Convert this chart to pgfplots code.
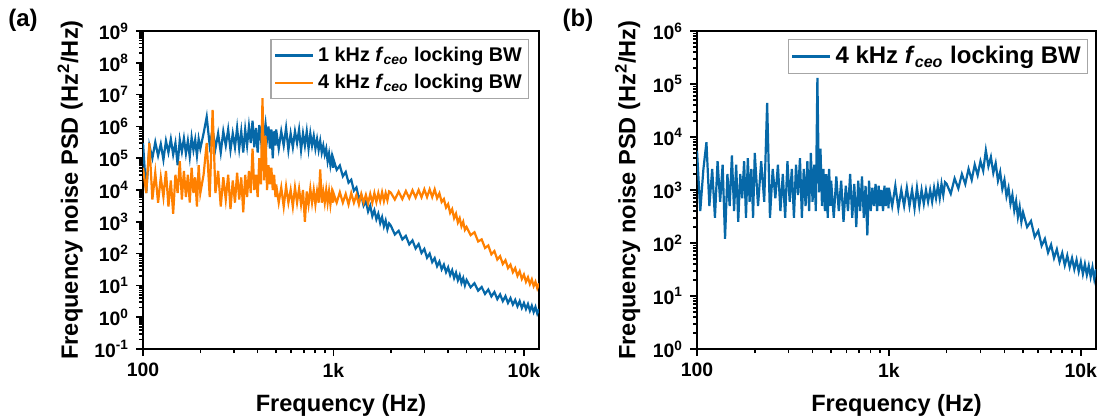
\documentclass[border=0pt]{standalone}
\usepackage{fontspec}
\setmainfont{Liberation Sans}
\usepackage{pgfplots}
\pgfplotsset{compat=1.18}
\usepackage{pgfplotstable}
\definecolor{cblue}{RGB}{6,104,168}
\definecolor{corange}{RGB}{255,128,0}

\pgfplotstableread{
f k1 k4
100 3.0e5 5e4
104 8e3 8e3
108 2.5e5 3e5
112 1.0e5 5e3
116 3.2e5 3.5e4
120 1.2e5 4e3
124 2.8e5 2.5e4
128 9e4 6e3
132 3.5e5 4e4
136 1.5e5 3e3
140 4.0e5 2e4
144 1.3e5 1.8e3
148 3.0e5 3e4
152 6e4 8e3
156 3.8e5 8e4
160 1.6e5 5e3
164 4.2e5 4e4
168 1.4e5 6e3
172 3.5e5 3e4
176 1.1e5 4e3
180 4.5e5 5e4
184 1.8e5 8e3
188 3.8e5 2.5e4
192 1.2e5 3e3
196 4.0e5 6e4
200 2.0e5 8e3
208 6e5 3e4
216 2.0e6 3e5
224 2.5e5 6e3
232 8e5 3.3e6
240 2.0e5 8e3
248 6e5 4e4
256 1.5e5 3e3
264 7e5 2.5e4
272 2.5e5 5e3
280 8e5 3e4
288 1.8e5 2.5e3
296 6e5 2e4
304 2.2e5 4e3
312 9e5 3.5e4
320 2.0e5 5e3
328 7e5 2.5e4
336 1.5e5 2e3
344 8e5 3e4
352 2.5e5 6e3
360 1.0e6 4e4
368 3.0e5 8e3
376 1.5e6 2e5
384 2.2e5 1e4
392 9e5 3e4
400 1.5e5 6e3
408 1.1e6 1e5
416 4.0e5 1.5e4
424 1.3e6 7.8e6
432 5e5 2e4
440 1.2e6 5e5
448 4.0e5 1e4
456 1.0e6 6e4
464 2.0e5 1.5e4
472 8e5 5e4
480 1.0e5 1e4
488 7e5 3e4
496 2.5e5 6e3
500 8e5 1.5e4
516 2.0e5 4e3
532 7e5 1.2e4
548 2.5e5 3e3
564 9e5 1.3e4
580 1.8e5 4e3
596 6e5 1.0e4
612 2.2e5 3e3
628 7e5 1.2e4
644 3.0e5 4e3
660 8e5 1.1e4
676 1.8e5 3.5e3
692 6e5 1.0e4
708 2.5e5 1.0e3
724 7e5 9e3
740 2.0e5 3.5e3
756 6e5 1.1e4
772 2.5e5 4e3
788 5e5 1.0e4
804 2.0e5 3.5e3
820 4.0e5 9e3
836 1.8e5 4e3
852 3.5e5 4.4e4
868 1.5e5 4e3
884 2.5e5 9e3
900 1.3e5 4e3
916 2.0e5 1.0e4
932 8e4 4e3
948 1.4e5 9e3
964 6e4 3.5e3
980 1.1e5 8e3
996 5e4 4e3
1000 9.3e4 8e3
1040 4.3e4 4e3
1080 5.9e4 8.5e3
1120 2.7e4 4e3
1160 3.7e4 7.5e3
1200 1.7e4 3.5e3
1240 2.1e4 8e3
1280 9.5e3 4e3
1320 1.2e4 7e3
1360 5.4e3 3.5e3
1400 6.9e3 7.5e3
1440 3.2e3 4e3
1480 4.4e3 7e3
1520 2.1e3 3.8e3
1560 3.2e3 7.5e3
1600 1.5e3 4e3
1640 2.3e3 8e3
1680 1.2e3 4.2e3
1720 1.8e3 8e3
1760 9.1e2 4.5e3
1800 1.4e3 8.5e3
1840 7.2e2 4.5e3
1880 1.1e3 8e3
1920 5.8e2 4.8e3
1960 8.9e2 9e3
2000 7.6e2 8.3e3
2100 4.0e2 5.0e3
2200 5.2e2 8.9e3
2300 2.8e2 5.2e3
2400 3.6e2 9.3e3
2500 1.95e2 5.5e3
2600 2.6e2 9.8e3
2700 1.45e2 5.8e3
2800 2.0e2 1.0e4
2900 1.05e2 5.9e3
3000 1.4e2 1.05e4
3100 7.4e1 6.0e3
3200 1.0e2 1.05e4
3300 5.4e1 6.0e3
3400 7.2e1 1.05e4
3500 4.0e1 5.5e3
3600 5.6e1 7.9e3
3700 3.2e1 4.2e3
3800 4.5e1 5.2e3
3900 2.6e1 2.8e3
4000 3.7e1 3.6e3
4100 2.1e1 1.9e3
4200 3.0e1 2.5e3
4300 1.7e1 1.3e3
4400 2.5e1 1.8e3
4500 1.45e1 9.5e2
4600 2.1e1 1.3e3
4700 1.2e1 7.2e2
4800 1.7e1 1.0e3
4900 1.0e1 5.6e2
5000 1.48e1 6.9e2
5250 8.7 3.8e2
5500 1.17e1 4.7e2
5750 6.8 2.4e2
6000 8.9 2.8e2
6250 5.4 1.5e2
6500 7.4 1.8e2
6750 4.5 9.5e1
7000 6.2 1.2e2
7250 3.7 6.5e1
7500 5.2 8.3e1
7750 3.2 4.7e1
8000 4.6 6.2e1
8250 2.8 3.5e1
8500 4.0 4.5e1
8750 2.5 2.6e1
9000 3.5 3.5e1
9250 2.2 2.0e1
9500 3.2 2.8e1
9750 1.95 1.6e1
10000 2.8 2.2e1
10250 1.8 1.3e1
10500 2.6 1.8e1
10750 1.6 1.1e1
11000 2.3 1.55e1
11250 1.45 9.5
11500 2.1 1.3e1
11750 1.3 8.1
12000 1.8 1.15e1
}\tabA

\pgfplotstableread{
f psd
100 5.5e3
104 4e2
108 2.5e3
112 8e3
116 5e2
120 2.5e3
124 3e2
128 3.5e3
132 6e2
136 3.0e3
140 1.2e2
144 2.0e3
148 5e2
152 4.5e3
156 4e2
160 3.0e3
164 2.5e2
168 2.0e3
172 7e2
176 3.5e3
180 3e2
184 4.0e3
188 6e2
192 2.5e3
196 3e2
200 5e3
208 5e2
216 3.5e3
224 6e2
232 4.4e4
240 3e2
248 2.5e3
256 7e2
264 3.0e3
272 4e2
280 2.0e3
288 3e2
296 3.5e3
304 6e2
312 2.5e3
320 3e2
328 3.0e3
336 8e2
344 4.0e3
352 3e2
360 2.5e3
368 5e2
376 3.5e3
384 4e2
392 5e3
400 6e2
408 3.0e3
416 4e2
424 1.3e5
432 9e2
440 6e3
448 5e2
456 2.5e3
464 4e2
472 2.0e3
480 3e2
488 2.5e3
496 5e2
500 1.5e3
516 3e2
532 1.8e3
548 4e2
564 1.5e3
580 2.5e2
596 1.2e3
612 4e2
628 2.0e3
644 3e2
660 1.3e3
676 2e2
692 1.5e3
708 4e2
724 1.8e3
740 3e2
756 1.2e3
772 1.4e2
788 1.5e3
804 4e2
820 1.1e3
836 5e2
852 1.3e3
868 4e2
884 1.2e3
900 5e2
916 1.0e3
932 4e2
948 1.2e3
964 5e2
980 1.1e3
996 4.5e2
1000 1.1e3
1040 5e2
1080 1.2e3
1120 4.5e2
1160 1.0e3
1200 5e2
1240 1.1e3
1280 5e2
1320 1.0e3
1360 4.5e2
1400 1.1e3
1440 5e2
1480 1.0e3
1520 5.5e2
1560 1.0e3
1600 6e2
1640 1.0e3
1680 6e2
1720 1.1e3
1760 7e2
1800 1.2e3
1840 7e2
1880 1.3e3
1920 8e2
1960 1.4e3
2000 1.3e3
2100 8.5e2
2200 1.65e3
2300 1.07e3
2400 2.0e3
2500 1.3e3
2600 2.5e3
2700 1.55e3
2800 3.0e3
2900 1.9e3
3000 3.5e3
3100 2.3e3
3200 5.6e3
3300 2.8e3
3400 4.2e3
3500 2.1e3
3600 3.2e3
3700 1.5e3
3800 2.2e3
3900 1.05e3
4000 1.55e3
4100 7.6e2
4200 1.1e3
4300 5.5e2
4400 8.1e2
4500 4.1e2
4600 6.2e2
4700 3.1e2
4800 4.8e2
4900 2.5e2
5000 3.8e2
5250 2.0e2
5500 2.6e2
5750 1.3e2
6000 1.7e2
6250 8.9e1
6500 1.2e2
6750 6.6e1
7000 9.3e1
7250 5.2e1
7500 7.6e1
7750 4.4e1
8000 6.5e1
8250 3.8e1
8500 5.8e1
8750 3.5e1
9000 5.2e1
9250 3.2e1
9500 4.8e1
9750 2.9e1
10000 4.4e1
10250 2.6e1
10500 4.0e1
10750 2.5e1
11000 3.7e1
11250 2.3e1
11500 3.5e1
11750 2.1e1
12000 3.2e1
}\tabB

\begin{document}
\begin{tikzpicture}
\path[use as bounding box] (0,0) rectangle (552pt,209.5pt);
\begin{axis}[
  xmode=log, ymode=log, scale only axis,
  at={(71.5pt,35pt)}, anchor=south west, width=198pt, height=159pt,
  xmin=100, xmax=12000, ymin=1e-1, ymax=1e9,
  axis line style={line width=1pt},
  tick align=outside, xtick pos=bottom, ytick pos=left,
  major tick length=3.5pt, minor tick length=2pt,
  tick style={black, line width=0.8pt},
  xtick={100,1000,10000}, xticklabels={100,1k,10k},
  ytick={1e-1,1e0,1e1,1e2,1e3,1e4,1e5,1e6,1e7,1e8,1e9},
  yticklabels={10\textsuperscript{-1},10\textsuperscript{0},10\textsuperscript{1},10\textsuperscript{2},10\textsuperscript{3},10\textsuperscript{4},10\textsuperscript{5},10\textsuperscript{6},10\textsuperscript{7},10\textsuperscript{8},10\textsuperscript{9}},
  tick label style={font=\fontsize{9.7}{11}\selectfont\bfseries},
  xlabel={Frequency (Hz)},
  ylabel={Frequency noise PSD (Hz\textsuperscript{2}/Hz)},
  x label style={at={(axis description cs:0.5,-0.176)}, anchor=center, font=\fontsize{11.8}{14}\selectfont\bfseries},
  y label style={at={(axis description cs:-0.184,0.5)}, anchor=center, font=\fontsize{11.8}{14}\selectfont\bfseries},
  legend cell align=left,
  legend image code/.code={\draw[#1] (0pt,0pt) -- (19pt,0pt);},
  legend style={at={(0.976,0.974)}, anchor=north east, draw=gray!70, line width=0.6pt,
    font=\fontsize{9.9}{12}\selectfont\bfseries, inner sep=1.5pt, row sep=1pt},
]
\addplot[cblue, line width=1.1pt] table[x=f, y=k1] {\tabA};
\addlegendentry{1 kHz \textit{f}\textsubscript{\textit{ceo}} locking BW}
\addplot[corange, line width=1.1pt] table[x=f, y=k4] {\tabA};
\addlegendentry{4 kHz \textit{f}\textsubscript{\textit{ceo}} locking BW}
\end{axis}
\begin{axis}[
  xmode=log, ymode=log, scale only axis,
  at={(348.5pt,35pt)}, anchor=south west, width=199.5pt, height=159pt,
  xmin=100, xmax=12000, ymin=1, ymax=1e6,
  axis line style={line width=1pt},
  tick align=outside, xtick pos=bottom, ytick pos=left,
  major tick length=3.5pt, minor tick length=2pt,
  tick style={black, line width=0.8pt},
  xtick={100,1000,10000}, xticklabels={100,1k,10k},
  ytick={1e0,1e1,1e2,1e3,1e4,1e5,1e6},
  yticklabels={10\textsuperscript{0},10\textsuperscript{1},10\textsuperscript{2},10\textsuperscript{3},10\textsuperscript{4},10\textsuperscript{5},10\textsuperscript{6}},
  tick label style={font=\fontsize{9.7}{11}\selectfont\bfseries},
  xlabel={Frequency (Hz)},
  ylabel={Frequency noise PSD (Hz\textsuperscript{2}/Hz)},
  x label style={at={(axis description cs:0.5,-0.176)}, anchor=center, font=\fontsize{11.8}{14}\selectfont\bfseries},
  y label style={at={(axis description cs:-0.174,0.5)}, anchor=center, font=\fontsize{11.8}{14}\selectfont\bfseries},
  legend cell align=left,
  legend image code/.code={\draw[#1] (0pt,0pt) -- (19pt,0pt);},
  legend style={at={(0.981,0.976)}, anchor=north east, draw=gray!70, line width=0.6pt,
    font=\fontsize{12}{14}\selectfont\bfseries, inner sep=1.5pt},
]
\addplot[cblue, line width=1.1pt] table[x=f, y=psd] {\tabB};
\addlegendentry{4 kHz \textit{f}\textsubscript{\textit{ceo}} locking BW}
\end{axis}
\node[font=\fontsize{12}{14}\selectfont\bfseries] at (11.5pt,199.5pt) {(a)};
\node[font=\fontsize{12}{14}\selectfont\bfseries] at (289pt,199.5pt) {(b)};
\end{tikzpicture}
\end{document}
